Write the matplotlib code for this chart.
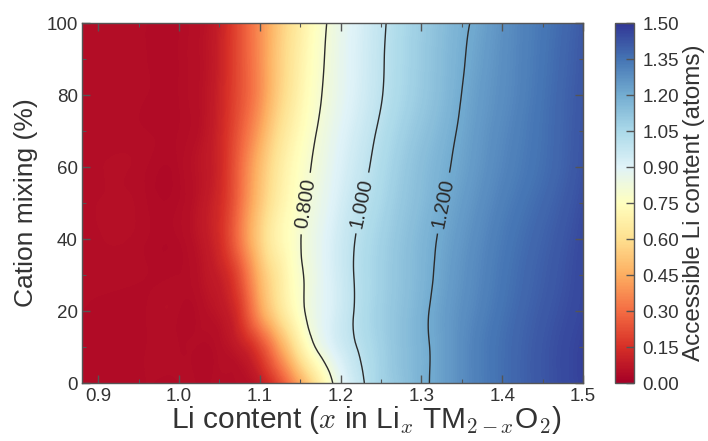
import numpy as np
import matplotlib
matplotlib.use("Agg")
import matplotlib.pyplot as plt
import matplotlib.tri as mtri
from matplotlib.ticker import MultipleLocator, FormatStrFormatter
from matplotlib.colors import Normalize
from matplotlib.cm import ScalarMappable

plt.rcParams['font.family'] = ['Liberation Sans', 'DejaVu Sans']
plt.rcParams['mathtext.fontset'] = 'cm'

# Li content x in Li_x TM_(2-x) O_2 (grid columns)
li_content = [0.88, 0.96, 1.00, 1.02, 1.04, 1.06, 1.08, 1.10, 1.12, 1.14, 1.16,
              1.18, 1.20, 1.22, 1.24, 1.27, 1.30, 1.33, 1.36, 1.40, 1.45, 1.50]

# cation mixing levels (%) (grid rows)
cation_mixing = [0, 10, 20, 30, 40, 50, 60, 70, 80, 90, 100]

# accessible Li content (atoms) along li_content, one list per mixing level
access_mix0 = [0.04, 0.04, 0.04, 0.04, 0.04, 0.04, 0.05, 0.08, 0.18, 0.34, 0.52,
               0.71, 0.87, 0.96, 1.04, 1.11, 1.18, 1.24, 1.30, 1.36, 1.42, 1.47]
access_mix10 = [0.04, 0.04, 0.04, 0.04, 0.04, 0.06, 0.10, 0.20, 0.37, 0.56, 0.74,
                0.86, 0.94, 1.00, 1.05, 1.12, 1.18, 1.24, 1.30, 1.36, 1.42, 1.47]
access_mix20 = [0.04, 0.04, 0.04, 0.04, 0.06, 0.09, 0.20, 0.40, 0.57, 0.71, 0.82,
                0.89, 0.95, 1.01, 1.06, 1.12, 1.18, 1.24, 1.29, 1.35, 1.41, 1.46]
access_mix30 = [0.04, 0.04, 0.04, 0.05, 0.08, 0.13, 0.27, 0.47, 0.62, 0.74, 0.82,
                0.89, 0.95, 1.01, 1.055, 1.115, 1.17, 1.23, 1.28, 1.34, 1.40, 1.455]
access_mix40 = [0.04, 0.04, 0.04, 0.06, 0.10, 0.19, 0.36, 0.54, 0.68, 0.76, 0.83,
                0.89, 0.95, 1.005, 1.05, 1.11, 1.165, 1.22, 1.27, 1.33, 1.39, 1.45]
access_mix50 = [0.04, 0.04, 0.04, 0.06, 0.10, 0.18, 0.34, 0.51, 0.65, 0.74, 0.81,
                0.87, 0.93, 0.985, 1.03, 1.095, 1.15, 1.205, 1.255, 1.315, 1.375, 1.44]
access_mix60 = [0.04, 0.04, 0.04, 0.06, 0.09, 0.17, 0.32, 0.48, 0.62, 0.72, 0.79,
                0.85, 0.91, 0.96, 1.01, 1.08, 1.14, 1.19, 1.24, 1.30, 1.36, 1.43]
access_mix70 = [0.04, 0.04, 0.04, 0.05, 0.085, 0.16, 0.28, 0.42, 0.57, 0.68, 0.765,
                0.83, 0.89, 0.94, 0.99, 1.06, 1.12, 1.175, 1.23, 1.29, 1.355, 1.425]
access_mix80 = [0.04, 0.04, 0.04, 0.05, 0.08, 0.15, 0.25, 0.37, 0.52, 0.64, 0.74,
                0.81, 0.87, 0.92, 0.97, 1.04, 1.10, 1.16, 1.22, 1.28, 1.35, 1.42]
access_mix90 = [0.04, 0.04, 0.04, 0.05, 0.075, 0.145, 0.25, 0.37, 0.51, 0.625, 0.725,
                0.80, 0.865, 0.915, 0.965, 1.035, 1.095, 1.155, 1.21, 1.275, 1.345, 1.415]
access_mix100 = [0.04, 0.04, 0.04, 0.05, 0.07, 0.14, 0.25, 0.37, 0.50, 0.61, 0.71,
                 0.79, 0.86, 0.91, 0.96, 1.03, 1.09, 1.15, 1.20, 1.27, 1.34, 1.41]

contour_levels = [0.8, 1.0, 1.2]
colorbar_ticks = [0.00, 0.15, 0.30, 0.45, 0.60, 0.75, 0.90, 1.05, 1.20, 1.35, 1.50]

Z = np.array([access_mix0, access_mix10, access_mix20, access_mix30, access_mix40,
              access_mix50, access_mix60, access_mix70, access_mix80, access_mix90,
              access_mix100])
X, Y = np.meshgrid(li_content, cation_mixing)

# triangulate the rectilinear grid (x in units of 0.01 so both axes are of
# similar magnitude) and refine it with a smooth cubic interpolant
ny, nx = Z.shape
triangles = []
for j in range(ny - 1):
    for i in range(nx - 1):
        a = j * nx + i
        b, c, d = a + 1, a + nx, a + nx + 1
        triangles.append([a, b, d])
        triangles.append([a, d, c])
grid_tri = mtri.Triangulation(X.ravel() * 100.0, Y.ravel(), np.array(triangles))
refiner = mtri.UniformTriRefiner(grid_tri)
fine_tri, fine_z = refiner.refine_field(Z.ravel(), subdiv=3)
plot_tri = mtri.Triangulation(fine_tri.x / 100.0, fine_tri.y, fine_tri.triangles)

text_color = '#333333'
spine_color = '#555555'

fig = plt.figure(figsize=(7.08, 4.41), dpi=100)
ax = fig.add_axes([0.1158, 0.1315, 0.7076, 0.8163])
cax = fig.add_axes([0.8686, 0.1315, 0.0268, 0.8163])

norm = Normalize(vmin=0.0, vmax=1.5)
cmap = plt.get_cmap('RdYlBu')

fill_levels = np.linspace(0.0, 1.5, 301)
ax.tricontourf(plot_tri, fine_z, levels=fill_levels, cmap=cmap, norm=norm,
               extend='both', antialiased=False)

cs = ax.tricontour(plot_tri, fine_z, levels=contour_levels, colors='#2b2b2b',
                   linewidths=1.0)
ax.clabel(cs, fmt='%.3f', fontsize=14.5, inline=True, inline_spacing=6,
          manual=[(1.153, 50), (1.227, 50), (1.327, 50)])

ax.set_xlim(0.88, 1.5)
ax.set_ylim(0, 100)
ax.xaxis.set_major_locator(MultipleLocator(0.1))
ax.xaxis.set_minor_locator(MultipleLocator(0.05))
ax.yaxis.set_major_locator(MultipleLocator(20))
ax.yaxis.set_minor_locator(MultipleLocator(10))
ax.xaxis.set_major_formatter(FormatStrFormatter('%.1f'))

ax.tick_params(which='both', direction='in', top=True, right=True,
               color=spine_color, labelcolor=text_color)
ax.tick_params(which='major', length=6, width=1.0, labelsize=13.5)
ax.tick_params(axis='x', which='major', pad=3.5)
ax.tick_params(axis='y', which='major', pad=3)
ax.tick_params(which='minor', length=3, width=0.8)
for s in ax.spines.values():
    s.set_color(spine_color)
    s.set_linewidth(1.0)

ax.set_ylabel('Cation mixing (%)', fontsize=19, color=text_color, labelpad=6)
ax.set_xlabel(r'Li content ($x$ in Li$_x$ TM$_{2-x}$O$_2$)', fontsize=21.5,
              color=text_color)
ax.xaxis.set_label_coords(0.568, -0.058)

cbar = fig.colorbar(ScalarMappable(norm=norm, cmap=cmap), cax=cax,
                    ticks=colorbar_ticks)
cbar.ax.yaxis.set_major_formatter(FormatStrFormatter('%.2f'))
cbar.ax.tick_params(direction='in', length=6, width=1.0, color=spine_color,
                    labelcolor=text_color, labelsize=13.5, pad=6)
cbar.outline.set_edgecolor(spine_color)
cbar.outline.set_linewidth(1.0)
cbar.set_label('Accessible Li content (atoms)', fontsize=17.5, color=text_color,
               labelpad=3)

fig.savefig('out.png', dpi=100)
